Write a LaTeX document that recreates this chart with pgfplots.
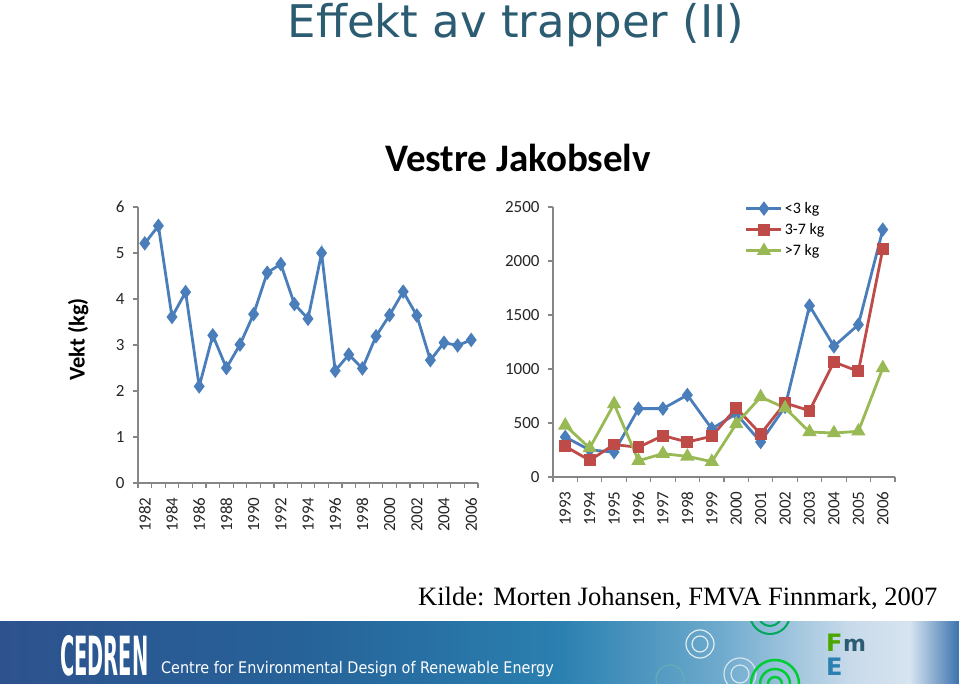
\documentclass[border=0pt]{standalone}
\usepackage{pgfplots}
\pgfplotsset{compat=1.18}
\usepackage{fontspec}
\setmainfont{Carlito}
\newfontfamily\titlefont{DejaVu Sans}
\newfontfamily\condfont{DejaVu Sans Condensed}
\newfontfamily\serif{Liberation Serif}
\definecolor{ttl}{RGB}{44,92,114}
\definecolor{xblue}{RGB}{74,126,187}
\definecolor{xred}{RGB}{190,75,72}
\definecolor{xgreen}{RGB}{152,185,84}
\definecolor{axgray}{RGB}{134,134,134}
\definecolor{b1}{RGB}{46,82,142}
\definecolor{b2}{RGB}{38,98,152}
\definecolor{b3}{RGB}{42,128,176}
\definecolor{b4}{RGB}{110,170,205}
\definecolor{b5}{RGB}{200,218,234}
\definecolor{b6}{RGB}{215,228,240}
\definecolor{b7}{RGB}{60,115,175}
\pgfplotsset{
  excel/.style={
    scale only axis,
    axis x line=bottom,axis y line=left,
    axis line style={axgray,line width=1.5bp,-},
    major x tick style={draw=none},
    minor x tick style={axgray,line width=1.2bp},
    minor tick length=5bp,
    major y tick style={axgray,line width=1.2bp},
    major tick length=5bp,
    tick align=outside,
    /pgf/number format/1000 sep={},
    /pgf/number format/assume math mode=true,
    ticklabel style={font=\fontsize{17bp}{19bp}\selectfont,text=black!85},
    xticklabel style={rotate=90,anchor=east,xshift=-6bp},
    yticklabel style={xshift=-5bp},
    clip=false}}
\begin{document}
\begin{tikzpicture}[x=1bp,y=1bp]
\fill[white] (0,0) rectangle (959,684);
% title
\node[anchor=base,text=ttl,font=\titlefont\fontsize{45bp}{50bp}\selectfont,inner sep=0] at (516,646) {Effekt av trapper (II)};
\node[anchor=base,font=\bfseries\fontsize{39bp}{42bp}\selectfont,inner sep=0] at (518,512) {Vestre Jakobselv};
\node[anchor=base west,font=\serif\fontsize{26.5bp}{30bp}\selectfont,inner sep=0] at (418,78) {Kilde: Morten Johansen, FMVA Finnmark, 2007};
% banner
\shade[left color=b1,right color=b2] (0,0) rectangle (300,62);
\shade[left color=b2,right color=b3] (299.5,0) rectangle (560,62);
\shade[left color=b3,right color=b4] (559.5,0) rectangle (720,62);
\shade[left color=b4,right color=b5] (719.5,0) rectangle (850,62);
\shade[left color=b5,right color=b6] (849.5,0) rectangle (910,62);
\shade[left color=b6,right color=b7] (909.5,0) rectangle (959,62);
\begin{scope}
\clip (0,0) rectangle (959,62);
\draw[white!80!b4,line width=1.2] (700,40) circle (14) (700,40) circle (8);
\draw[white!70!b4,line width=1.2] (740,10) circle (16) (740,10) circle (9);
\draw[teal!70!green,line width=2] (770,70) circle (20) (770,70) circle (12);
\draw[green!60!teal,line width=2.5] (775,0) circle (24) (775,0) circle (15) (775,0) circle (7);
\draw[teal!60,line width=1] (670,5) circle (14);
\end{scope}
\node[anchor=base west,text=white,inner sep=0] at (60,8) {\scalebox{0.4}[1]{\condfont\bfseries\fontsize{54bp}{58bp}\selectfont CEDREN}};
\node[anchor=base west,text=white,font=\condfont\fontsize{16bp}{18bp}\selectfont,inner sep=0] at (161,10) {Centre for Environmental Design of Renewable Energy};
\node[anchor=base west,text=green!50!black!70!yellow,font=\titlefont\bfseries\fontsize{24bp}{26bp}\selectfont,inner sep=0] at (826,32) {F};
\node[anchor=base west,text=ttl,font=\titlefont\bfseries\fontsize{22bp}{26bp}\selectfont,inner sep=0] at (843,32) {m};
\node[anchor=base west,text=b3,font=\titlefont\bfseries\fontsize{24bp}{26bp}\selectfont,inner sep=0] at (826,8) {E};

% left chart
\begin{axis}[excel,at={(138bp,201bp)},anchor=origin,
  width=340bp,height=276bp,
  xmin=1981.5,xmax=2006.5,ymin=0,ymax=6,
  xtick={1982,1984,...,2006},
  minor xtick={1981.5,1982.5,...,2006.5},
  ytick={0,1,...,6},
  ylabel={\bfseries Vekt (kg)},
  ylabel style={font=\fontsize{22.5bp}{24bp}\selectfont,at={(axis description cs:-0.176,0.52)},anchor=center}]
\addplot[xblue,line width=2.8bp,mark=diamond*,mark size=5bp,mark options={solid}] coordinates {
(1982,5.21)(1983,5.59)(1984,3.61)(1985,4.15)(1986,2.10)(1987,3.21)(1988,2.50)(1989,3.01)
(1990,3.67)(1991,4.57)(1992,4.76)(1993,3.89)(1994,3.57)(1995,5.00)(1996,2.44)(1997,2.79)
(1998,2.49)(1999,3.19)(2000,3.65)(2001,4.16)(2002,3.64)(2003,2.67)(2004,3.05)(2005,2.99)(2006,3.11)};
\end{axis}

% right chart
\begin{axis}[excel,at={(553bp,207bp)},anchor=origin,
  width=342bp,height=270bp,
  xmin=1992.5,xmax=2006.5,ymin=0,ymax=2500,
  xtick={1993,...,2006},
  minor xtick={1992.5,1993.5,...,2006.5},
  ytick={0,500,...,2500},
  legend style={at={(0.561,1.033)},anchor=north west,draw=none,fill=none,
    font=\fontsize{16bp}{18bp}\selectfont,row sep=4.5bp,inner xsep=0pt,
    /tikz/every even column/.append style={column sep=0bp}},
  legend cell align=left,
  legend image code/.code={\draw[mark repeat=2,mark phase=2] plot coordinates {(0bp,0bp) (17.5bp,0bp) (35bp,0bp)};}]
\addplot[xblue,line width=2.8bp,mark=diamond*,mark size=5bp,mark options={solid}] coordinates {
(1993,370)(1994,250)(1995,231)(1996,633)(1997,633)(1998,759)(1999,447)(2000,585)
(2001,324)(2002,650)(2003,1586)(2004,1210)(2005,1410)(2006,2290)};
\addlegendentry{<3 kg}
\addplot[xred,line width=2.8bp,mark=square*,mark size=4.5bp,mark options={solid}] coordinates {
(1993,284)(1994,154)(1995,300)(1996,275)(1997,383)(1998,324)(1999,377)(2000,639)
(2001,398)(2002,685)(2003,614)(2004,1065)(2005,978)(2006,2111)};
\addlegendentry{3-7 kg}
\addplot[xgreen,line width=2.8bp,mark=triangle*,mark size=5.5bp,mark options={solid}] coordinates {
(1993,478)(1994,268)(1995,676)(1996,151)(1997,216)(1998,191)(1999,142)(2000,491)
(2001,741)(2002,639)(2003,417)(2004,407)(2005,423)(2006,1009)};
\addlegendentry{>7 kg}
\end{axis}
\end{tikzpicture}
\end{document}
